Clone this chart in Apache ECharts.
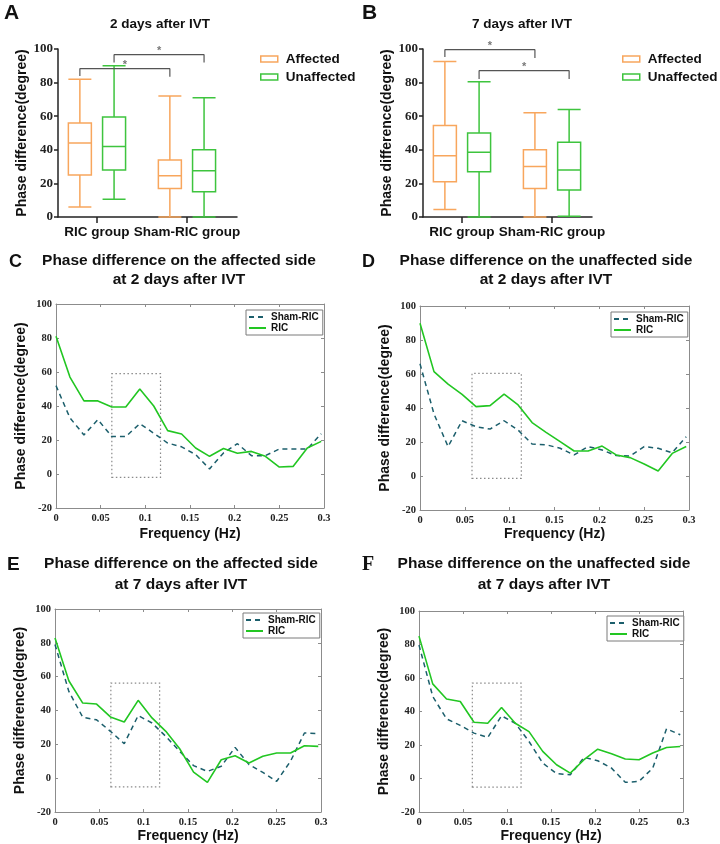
<!DOCTYPE html>
<html>
<head>
<meta charset="utf-8">
<script src="https://cdn.jsdelivr.net/npm/echarts@6/dist/echarts.min.js"></script>
<style>
html, body { margin: 0; padding: 0; background: #fff; }
#chart { width: 720px; height: 844px; }
</style>
</head>
<body>
<div id="chart"></div>
<script>
// Panels A and B: box plots, each box is [min, Q1, median, Q3, max]
const groups = [ 'RIC group', 'Sham-RIC group' ];
const boxAffected2d = [ [ 6, 25, 44, 56, 82 ], [ 0, 17, 24.5, 34, 72 ] ];
const boxUnaffected2d = [ [ 10.5, 28, 42, 59.5, 90 ], [ 0, 15, 27.5, 40, 71 ] ];
const boxAffected7d = [ [ 4.5, 21, 36.5, 54.5, 92.5 ], [ 0, 17, 30, 40, 62 ] ];
const boxUnaffected7d = [ [ 0, 27, 38.5, 50, 80.5 ], [ 0.5, 16, 28, 44.5, 64 ] ];

// Significance brackets: side compared, bar height, left leg end, right leg end
const sig2d = [ [ 'affected', 88.3, 84, 83.5 ], [ 'unaffected', 96.6, 92, 92 ] ];
const sig7d = [ [ 'affected', 99.6, 95.2, 94.6 ], [ 'unaffected', 87.1, 82.1, 82.1 ] ];

// Panels C-F: phase difference by frequency
const freq = [ 0, 0.0156, 0.0313, 0.0469, 0.0625, 0.0781, 0.0938, 0.1094, 0.125, 0.1406,
	0.1563, 0.1719, 0.1875, 0.2031, 0.2188, 0.2344, 0.25, 0.2656, 0.2813, 0.2969 ];
const ricAffected2d = [ 81, 57, 43, 43, 39.4, 39.4, 50, 40, 25.5, 23.5, 15.3, 10.4, 15, 12.2, 13.3, 10.4, 4.1, 4.5, 15.3, 19.2 ];
const shamAffected2d = [ 52, 33, 23, 32, 22, 22, 29.6, 24, 18.2, 16, 11.4, 3, 12.4, 17.8, 10.8, 10.8, 14.7, 14.7, 14.7, 23.7 ];
const ricUnaffected2d = [ 89.8, 61.4, 54, 48, 40.8, 41.4, 48.2, 41.8, 31.4, 25.7, 20.2, 14.7, 14.7, 17.6, 12.4, 10.8, 7.1, 2.9, 13.3, 17.3 ];
const shamUnaffected2d = [ 66, 36.5, 17.3, 32.5, 29, 27.6, 32.5, 27, 18.8, 18.4, 16.3, 12.4, 17.3, 15.3, 12, 11.8, 17.3, 16.3, 13.7, 23.1 ];
const ricAffected7d = [ 82.9, 57.6, 44.4, 43.8, 36.2, 33.2, 46, 35.6, 27.7, 17.4, 3.6, -2.5, 10.9, 13.3, 9, 12.9, 14.9, 14.9, 19.2, 18.8 ];
const shamAffected7d = [ 79, 51.3, 36, 34.5, 27.7, 20.4, 37, 32.6, 24.7, 15.9, 7.4, 4, 7, 18.2, 8, 3.4, -1.9, 10, 26.7, 26.3 ];
const ricUnaffected7d = [ 85, 56.5, 47.5, 46, 33.6, 33, 42.4, 33, 28, 16.2, 8.2, 3.2, 11.2, 17.5, 14.8, 11.6, 11.2, 15.2, 18.5, 19.1 ];
const shamUnaffected7d = [ 79.7, 49, 35.6, 31.7, 27.1, 24.5, 37.4, 33, 22.1, 9.2, 2.9, 2.2, 12.6, 10.6, 6.2, -2.3, -1.7, 6.2, 29.7, 26.1 ];

// Dotted regions of interest: [freq from, freq to, phase from, phase to]
const roiC = [ 0.0625, 0.117, -2, 59 ];
const roiD = [ 0.058, 0.113, -1.4, 60.4 ];
const roiE = [ 0.063, 0.118, -5.2, 56.2 ];
const roiF = [ 0.0606, 0.116, -5.1, 56.9 ];

const sans = '"Liberation Sans", Arial, sans-serif';
const serif = '"Liberation Serif", "Times New Roman", serif';
const orange = '#f8a65d';
const greenBox = '#3ec43e';
const greenLine = '#22c622';
const teal = '#1c5f6c';
const frame = '#8c8c8c';
const boxOffset = 0.19;

const option = {
	animation: false,
	backgroundColor: '#fff',
	grid: [],
	xAxis: [],
	yAxis: [],
	series: [],
	legend: [],
	graphic: []
};

const text = ( x, y, str, font, align ) => ( {
	type: 'text',
	x,
	y,
	silent: true,
	style: {
		text: str,
		font,
		fill: '#111',
		align: align || 'center',
		textAlign: align || 'center',
		verticalAlign: 'middle',
		textVerticalAlign: 'middle'
	}
} );

const yName = ( gap ) => ( {
	name: 'Phase difference(degree)',
	nameLocation: 'middle',
	nameGap: gap,
	nameTextStyle: { fontFamily: sans, fontWeight: 'bold', fontSize: 14, color: '#111' }
} );

/**
 * Box plot panel with a value x axis so boxes sit beside each group tick.
 */
const addBoxPanel = ( rect, range, affected, unaffected, sig ) => {
	const gridIndex = option.grid.length;
	option.grid.push( { left: rect[ 0 ], top: rect[ 1 ], width: rect[ 2 ], height: rect[ 3 ] } );
	const xMain = option.xAxis.length;
	option.xAxis.push( {
		type: 'value',
		gridIndex,
		min: range[ 0 ],
		max: range[ 1 ],
		axisLine: { show: true, onZero: false, lineStyle: { color: '#222', width: 1.5 } },
		axisTick: { show: true, customValues: [ 1, 2 ], length: 6, lineStyle: { color: '#222', width: 1.5 } },
		axisLabel: {
			customValues: [ 1, 2 ],
			formatter: ( v ) => groups[ Math.round( v ) - 1 ],
			margin: 8,
			fontFamily: sans,
			fontWeight: 'bold',
			fontSize: 13.5,
			color: '#111'
		},
		splitLine: { show: false }
	} );
	option.xAxis.push( { type: 'value', gridIndex, min: range[ 0 ], max: range[ 1 ], show: false } );
	const yIndex = option.yAxis.length;
	option.yAxis.push( Object.assign( {
		type: 'value',
		gridIndex,
		min: 0,
		max: 100,
		interval: 20,
		axisLine: { show: true, onZero: false, lineStyle: { color: '#222', width: 1.5 } },
		axisTick: { show: true, length: 4, lineStyle: { color: '#222', width: 1.5 } },
		axisLabel: { margin: 5, fontFamily: serif, fontWeight: 'bold', fontSize: 13, color: '#222' },
		splitLine: { show: false }
	}, yName( 29 ) ) );

	const sides = {
		affected: { name: 'Affected', color: orange, data: affected, shift: -boxOffset, axis: xMain },
		unaffected: { name: 'Unaffected', color: greenBox, data: unaffected, shift: boxOffset, axis: xMain + 1 }
	};
	Object.keys( sides ).forEach( ( key ) => {
		const s = sides[ key ];
		option.series.push( {
			type: 'boxplot',
			name: s.name,
			xAxisIndex: s.axis,
			yAxisIndex: yIndex,
			boxWidth: [ 23, 23 ],
			itemStyle: { color: 'rgba(255,255,255,0)', borderColor: s.color, borderWidth: 1.5 },
			emphasis: { disabled: true },
			data: s.data.map( ( d, i ) => [ i + 1 + s.shift ].concat( d ) )
		} );
	} );

	sig.forEach( ( b ) => {
		const shift = sides[ b[ 0 ] ].shift;
		const x1 = 1 + shift;
		const x2 = 2 + shift;
		option.series.push( {
			type: 'line',
			xAxisIndex: xMain,
			yAxisIndex: yIndex,
			symbol: 'none',
			silent: true,
			clip: false,
			lineStyle: { color: '#555', width: 1.2 },
			data: [ [ x1, b[ 2 ] ], [ x1, b[ 1 ] ], [ x2, b[ 1 ] ], [ x2, b[ 3 ] ] ]
		} );
		option.series.push( {
			type: 'scatter',
			xAxisIndex: xMain,
			yAxisIndex: yIndex,
			symbolSize: 1,
			silent: true,
			clip: false,
			itemStyle: { color: 'rgba(0,0,0,0)' },
			label: { show: true, formatter: '*', position: 'top', distance: -2, fontSize: 11, fontWeight: 'bold', color: '#555' },
			data: [ [ ( x1 + x2 ) / 2, b[ 1 ] ] ]
		} );
	} );
};

const addBoxLegend = ( left, top ) => {
	option.legend.push( {
		left,
		top,
		orient: 'vertical',
		icon: 'rect',
		itemWidth: 17,
		itemHeight: 6,
		itemGap: 4,
		padding: 0,
		selectedMode: false,
		textStyle: { fontFamily: sans, fontWeight: 'bold', fontSize: 13.5, color: '#111', padding: [ 0, 0, 0, 3 ] },
		data: [
			{ name: 'Affected', itemStyle: { color: '#fff', borderColor: orange, borderWidth: 1.5 } },
			{ name: 'Unaffected', itemStyle: { color: '#fff', borderColor: greenBox, borderWidth: 1.5 } }
		]
	} );
};

/**
 * MATLAB-like framed line panel.
 */
const addLinePanel = ( rect, ric, sham, roi, xGap, legendPos ) => {
	const gridIndex = option.grid.length;
	option.grid.push( { left: rect[ 0 ], top: rect[ 1 ], width: rect[ 2 ], height: rect[ 3 ] } );
	const tick = { show: true, inside: true, length: 3, lineStyle: { color: frame } };
	const line = { show: true, onZero: false, lineStyle: { color: frame, width: 1 } };
	const tickFont = { fontFamily: serif, fontWeight: 'bold', fontSize: 10.5, color: '#222' };
	const xi = option.xAxis.length;
	option.xAxis.push( {
		type: 'value',
		gridIndex,
		min: 0,
		max: 0.3,
		interval: 0.05,
		axisLine: line,
		axisTick: tick,
		axisLabel: Object.assign( { margin: 5 }, tickFont ),
		splitLine: { show: false },
		name: 'Frequency (Hz)',
		nameLocation: 'middle',
		nameGap: xGap,
		nameTextStyle: { fontFamily: sans, fontWeight: 'bold', fontSize: 14, color: '#111' }
	} );
	option.xAxis.push( {
		type: 'value', gridIndex, min: 0, max: 0.3, interval: 0.05, position: 'top',
		axisLine: line, axisTick: tick, axisLabel: { show: false }, splitLine: { show: false }
	} );
	const yi = option.yAxis.length;
	option.yAxis.push( Object.assign( {
		type: 'value',
		gridIndex,
		min: -20,
		max: 100,
		interval: 20,
		axisLine: line,
		axisTick: tick,
		axisLabel: Object.assign( { margin: 4 }, tickFont ),
		splitLine: { show: false }
	}, yName( 28 ) ) );
	option.yAxis.push( {
		type: 'value', gridIndex, min: -20, max: 100, interval: 20, position: 'right',
		axisLine: line, axisTick: tick, axisLabel: { show: false }, splitLine: { show: false }
	} );
	option.series.push( {
		type: 'line',
		name: 'Sham-RIC',
		xAxisIndex: xi,
		yAxisIndex: yi,
		symbol: 'none',
		color: teal,
		lineStyle: { color: teal, width: 1.5, type: [ 5, 4 ] },
		data: freq.map( ( f, i ) => [ f, sham[ i ] ] )
	} );
	option.series.push( {
		type: 'line',
		name: 'RIC',
		xAxisIndex: xi,
		yAxisIndex: yi,
		symbol: 'none',
		color: greenLine,
		lineStyle: { color: greenLine, width: 1.6 },
		data: freq.map( ( f, i ) => [ f, ric[ i ] ] ),
		markArea: {
			silent: true,
			itemStyle: { color: 'rgba(0,0,0,0)', borderColor: '#8a8a8a', borderWidth: 1.2, borderType: [ 1.5, 2.5 ] },
			data: [ [ { coord: [ roi[ 0 ], roi[ 2 ] ] }, { coord: [ roi[ 1 ], roi[ 3 ] ] } ] ]
		}
	} );
	option.legend.push( {
		left: legendPos[ 0 ],
		top: legendPos[ 1 ],
		orient: 'vertical',
		itemWidth: 17,
		itemHeight: 8,
		itemGap: 1,
		padding: [ 2, 4, 2, 2 ],
		borderColor: '#7a7a7a',
		borderWidth: 1,
		backgroundColor: '#fff',
		selectedMode: false,
		// hide the marker that ECharts puts on line legend icons
		itemStyle: { opacity: 0 },
		textStyle: { fontFamily: sans, fontWeight: 'bold', fontSize: 10, color: '#111' },
		data: [ 'Sham-RIC', 'RIC' ]
	} );
};

addBoxPanel( [ 58, 49, 179, 168 ], [ 0.567, 2.556 ], boxAffected2d, boxUnaffected2d, sig2d );
addBoxPanel( [ 423, 49, 169, 168 ], [ 0.567, 2.444 ], boxAffected7d, boxUnaffected7d, sig7d );
addBoxLegend( 260, 52 );
addBoxLegend( 622, 52 );

addLinePanel( [ 56, 304, 268, 204 ], ricAffected2d, shamAffected2d, roiC, 19, [ 246, 310 ] );
addLinePanel( [ 420, 306, 269, 204 ], ricUnaffected2d, shamUnaffected2d, roiD, 17, [ 611, 312 ] );
addLinePanel( [ 55, 609, 266, 203 ], ricAffected7d, shamAffected7d, roiE, 15, [ 243, 613 ] );
addLinePanel( [ 419, 611, 264, 201 ], ricUnaffected7d, shamUnaffected7d, roiF, 16, [ 607, 616 ] );

const letter = 'bold 21px ' + sans;
const letterSmall = 'bold 18px ' + sans;
const titleFont = 'bold 15.5px ' + sans;
const subFont = 'bold 13.5px ' + sans;
option.graphic = [
	text( 4, 13, 'A', letter, 'left' ),
	text( 362, 13, 'B', letter, 'left' ),
	text( 9, 262, 'C', letterSmall, 'left' ),
	text( 362, 262, 'D', letterSmall, 'left' ),
	text( 7, 565, 'E', 'bold 19px ' + sans, 'left' ),
	text( 362, 565, 'F', 'bold 20px ' + serif, 'left' ),
	text( 160, 24, '2 days after IVT', subFont ),
	text( 522, 24, '7 days after IVT', subFont ),
	text( 179, 261, 'Phase difference on the affected side', titleFont ),
	text( 179, 280, 'at 2 days after IVT', titleFont ),
	text( 546, 261, 'Phase difference on the unaffected side', titleFont ),
	text( 546, 280, 'at 2 days after IVT', titleFont ),
	text( 181, 564, 'Phase difference on the affected side', titleFont ),
	text( 181, 585, 'at 7 days after IVT', titleFont ),
	text( 544, 564, 'Phase difference on the unaffected side', titleFont ),
	text( 544, 585, 'at 7 days after IVT', titleFont )
];

const chart = echarts.init( document.getElementById( 'chart' ), null, { renderer: 'canvas' } );
chart.setOption( option );
</script>
</body>
</html>
